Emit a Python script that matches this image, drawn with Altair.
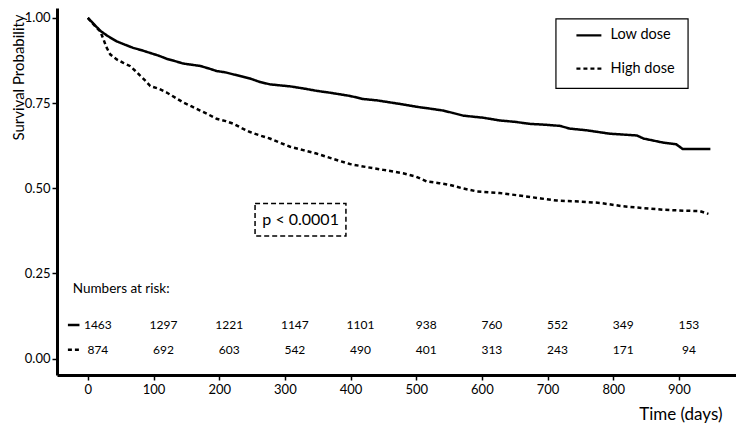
import altair as alt
import pandas as pd

# ---- data ----
groups = ["Low dose", "High dose"]

low_t = [0, 10, 19, 30, 44, 57, 69, 82, 95, 108, 120, 133, 145, 160, 171, 185, 196, 210, 222, 235,
         247, 262, 277, 292, 308, 328, 348, 370, 399, 419, 440, 460, 480, 501, 520, 541, 556, 572,
         602, 627, 650, 673, 700, 719, 734, 760, 795, 836, 846, 876, 896, 906, 948]
low_s = [1.0, 0.98, 0.962, 0.947, 0.931, 0.921, 0.912, 0.905, 0.897, 0.889, 0.880, 0.873, 0.866,
         0.862, 0.859, 0.851, 0.844, 0.840, 0.834, 0.828, 0.822, 0.812, 0.805, 0.802, 0.799, 0.793,
         0.786, 0.780, 0.771, 0.762, 0.758, 0.752, 0.746, 0.739, 0.734, 0.728, 0.721, 0.713, 0.707,
         0.699, 0.695, 0.689, 0.686, 0.683, 0.675, 0.670, 0.660, 0.655, 0.646, 0.634, 0.629, 0.615,
         0.615]

high_t = [0, 10, 19, 24, 28, 34, 44, 54, 64, 72, 80, 88, 95, 108, 120, 133, 145, 158, 171, 184,
          196, 210, 222, 235, 247, 262, 277, 292, 308, 328, 348, 372, 399, 425, 450, 480, 500, 516,
          535, 551, 570, 592, 627, 660, 690, 714, 750, 780, 815, 845, 876, 910, 932, 945]
high_s = [1.0, 0.978, 0.960, 0.936, 0.915, 0.893, 0.878, 0.868, 0.859, 0.845, 0.830, 0.815, 0.800,
          0.792, 0.781, 0.766, 0.752, 0.740, 0.728, 0.716, 0.704, 0.697, 0.689, 0.676, 0.665, 0.655,
          0.646, 0.634, 0.622, 0.612, 0.602, 0.587, 0.571, 0.562, 0.554, 0.544, 0.534, 0.520, 0.515,
          0.510, 0.500, 0.491, 0.486, 0.478, 0.470, 0.464, 0.461, 0.457, 0.447, 0.442, 0.437, 0.434,
          0.433, 0.425]

risk_times = [0, 100, 200, 300, 400, 500, 600, 700, 800, 900]
risk_low = [1463, 1297, 1221, 1147, 1101, 938, 760, 552, 349, 153]
risk_high = [874, 692, 603, 542, 490, 401, 313, 243, 171, 94]

x_ticks = [0, 100, 200, 300, 400, 500, 600, 700, 800, 900]
y_ticks = [0.0, 0.25, 0.5, 0.75, 1.0]

p_text = "p < 0.0001"
risk_title = "Numbers at risk:"

# ---- tables ----
curve_df = pd.concat([
    pd.DataFrame({"t": low_t, "s": low_s, "group": groups[0]}),
    pd.DataFrame({"t": high_t, "s": high_s, "group": groups[1]}),
])
risk_df = pd.concat([
    pd.DataFrame({"t": risk_times, "s": 0.099, "label": [str(v) for v in risk_low]}),
    pd.DataFrame({"t": risk_times, "s": 0.026, "label": [str(v) for v in risk_high]}),
])

xs = alt.Scale(domain=[-47, 987], nice=False, zero=False)
ys = alt.Scale(domain=[-0.048, 1.029], nice=False, zero=False)
dash_scale = alt.Scale(domain=groups, range=[[1, 0], [4, 3]])

FONT = "Lato"

x_axis = alt.Axis(values=x_ticks, format="d", title="Time (days)", grid=False,
                  domainColor="black", domainWidth=3, tickColor="black", tickWidth=1.5,
                  tickSize=5, labelColor="black", labelFontSize=13, labelPadding=3,
                  labelFlush=False, titleFontSize=17, titleFontWeight="normal",
                  titleColor="black", titleX=665, titleY=44, titleAlign="right",
                  titleBaseline="alphabetic")
y_axis = alt.Axis(values=y_ticks, format=".2f", title="Survival Probability", grid=False,
                  domainColor="black", domainWidth=3, tickColor="black", tickWidth=1.5,
                  tickSize=5, labelColor="black", labelFontSize=13, labelPadding=2,
                  labelFlush=False, titleFontSize=15, titleFontWeight="normal",
                  titleColor="black", titleX=-46, titleY=69, titleAngle=270,
                  titleAlign="center", titleBaseline="top")


def X(f="t"):
    return alt.X(f + ":Q", scale=xs, axis=x_axis)


def Y(f="s"):
    return alt.Y(f + ":Q", scale=ys, axis=y_axis)


curves = alt.Chart(curve_df).mark_line(interpolate="linear", color="black",
                                       strokeWidth=2.5).encode(
    x=X(), y=Y(),
    strokeDash=alt.StrokeDash("group:N", scale=dash_scale, legend=None),
)

# risk table
risk_text = alt.Chart(risk_df).mark_text(fontSize=12, dx=10, align="center",
                                         baseline="middle", color="black").encode(
    x=X(), y=Y(), text="label:N")
risk_head = alt.Chart(pd.DataFrame({"t": [-23], "s": [0.205], "label": [risk_title]})).mark_text(
    fontSize=13.5, align="left", baseline="middle", color="black").encode(x=X(), y=Y(), text="label:N")
risk_marks = alt.Chart(pd.DataFrame({"t": [-30.4, -30.4], "t2": [-12.8, -12.8],
                                     "s": [0.099, 0.026], "group": groups})).mark_rule(
    color="black", strokeWidth=2.5).encode(
    x=X(), x2="t2:Q", y=Y(),
    strokeDash=alt.StrokeDash("group:N", scale=dash_scale, legend=None))

# legend box
leg_box = alt.Chart(pd.DataFrame({"t": [712.8], "t2": [914], "s": [0.793], "s2": [0.997]})).mark_rect(
    fill="white", stroke="black", strokeWidth=1.2).encode(x=X(), x2="t2:Q", y=Y(), y2="s2:Q")
leg_lines = alt.Chart(pd.DataFrame({"t": [744, 744], "t2": [782, 782], "s": [0.9486, 0.851],
                                    "group": groups})).mark_rule(
    color="black", strokeWidth=2.2).encode(
    x=X(), x2="t2:Q", y=Y(),
    strokeDash=alt.StrokeDash("group:N", scale=dash_scale, legend=None))
leg_text = alt.Chart(pd.DataFrame({"t": [796, 796], "s": [0.9486, 0.851], "label": groups})).mark_text(
    fontSize=14.5, align="left", baseline="middle", color="black").encode(x=X(), y=Y(), text="label:N")

# p-value box
p_box = alt.Chart(pd.DataFrame({"t": [254.6], "t2": [393], "s": [0.360], "s2": [0.455]})).mark_rect(
    fill="white", stroke="black", strokeWidth=1.5, strokeDash=[5, 3]).encode(
    x=X(), x2="t2:Q", y=Y(), y2="s2:Q")
p_lbl = alt.Chart(pd.DataFrame({"t": [324], "s": [0.408], "label": [p_text]})).mark_text(
    fontSize=16, align="center", baseline="middle", color="black").encode(x=X(), y=Y(), text="label:N")

chart = alt.layer(curves, risk_text, risk_head, risk_marks, leg_box, leg_lines, leg_text,
                  p_box, p_lbl).properties(
    width=679, height=367,
    autosize=alt.AutoSizeParams(type="none"),
    padding={"left": 49, "top": 0, "right": 0, "bottom": 48},
).configure(font=FONT).configure_view(stroke=None)

chart.save("out.html", embed_options={"renderer": "svg", "actions": False})
